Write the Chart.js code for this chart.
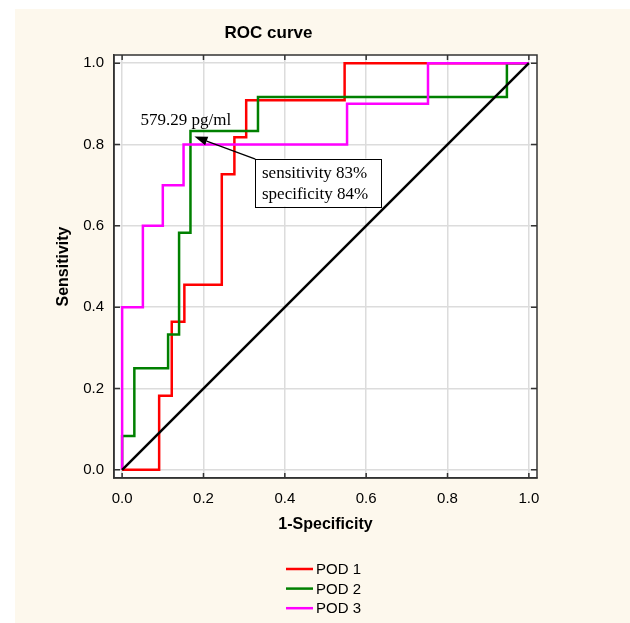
<!DOCTYPE html>
<html><head><meta charset="utf-8">
<script src="https://cdn.jsdelivr.net/npm/chart.js@4.4.1/dist/chart.umd.min.js"></script>
<style>html,body{margin:0;padding:0;background:#fff;} canvas{display:block;}</style>
</head><body>
<canvas id="c" width="630" height="623"></canvas>
<script>
const TITLE = 'ROC curve';
const X_TITLE = '1-Specificity';
const Y_TITLE = 'Sensitivity';
const TICKS = [0, 0.2, 0.4, 0.6, 0.8, 1.0];
const SERIES_NAMES = ['POD 1', 'POD 2', 'POD 3'];
const SERIES_COLORS = ['#ff0000', '#008000', '#ff00ff'];
const POD1_FPR = [0, 0.091, 0.122, 0.153, 0.245, 0.276, 0.305, 0.547, 1.0];
const POD1_TPR = [0, 0.182, 0.364, 0.455, 0.727, 0.818, 0.909, 1.0, 1.0];
const POD2_FPR = [0, 0, 0.030, 0.113, 0.140, 0.168, 0.334, 0.946, 1.0];
const POD2_TPR = [0, 0.083, 0.250, 0.333, 0.583, 0.833, 0.917, 1.0, 1.0];
const POD3_FPR = [0, 0, 0.051, 0.100, 0.151, 0.553, 0.752, 1.0];
const POD3_TPR = [0, 0.400, 0.600, 0.700, 0.800, 0.900, 1.0, 1.0];
const REF_FPR = [0, 1];
const REF_TPR = [0, 1];
const CUTOFF_LABEL = '579.29 pg/ml';
const CUTOFF_POINT = [0.168, 0.833];
const CUTOFF_TEXT = ['sensitivity 83%', 'specificity 84%'];

const SANS = '"Liberation Sans", Arial, Helvetica, sans-serif';
const SERIF = '"Liberation Serif", "Times New Roman", serif';

function pts(xs, ys) { return xs.map((v, i) => ({ x: v, y: ys[i] })); }

const extras = {
  id: 'extras',
  beforeDraw(chart) {
    const { ctx, chartArea: a } = chart;
    ctx.save();
    ctx.fillStyle = '#ffffff';
    ctx.fillRect(0, 0, chart.width, chart.height);
    ctx.fillStyle = '#fdf8ed';
    ctx.fillRect(15, 9, chart.width - 15, chart.height - 9);
    ctx.fillStyle = '#ffffff';
    ctx.fillRect(a.left, a.top, a.right - a.left, a.bottom - a.top);
    ctx.restore();
  },
  beforeDatasetsDraw(chart) {
    const { ctx, chartArea: a, scales: { x, y } } = chart;
    ctx.save();
    ctx.strokeStyle = '#333333';
    ctx.lineWidth = 1.5;
    ctx.strokeRect(a.left, a.top, a.right - a.left, a.bottom - a.top);
    ctx.beginPath();
    for (const v of TICKS) {
      const px = x.getPixelForValue(v), py = y.getPixelForValue(v);
      ctx.moveTo(px, a.bottom); ctx.lineTo(px, a.bottom - 5);
      ctx.moveTo(px, a.top); ctx.lineTo(px, a.top + 5);
      ctx.moveTo(a.left, py); ctx.lineTo(a.left + 6, py);
      ctx.moveTo(a.right, py); ctx.lineTo(a.right - 6, py);
    }
    ctx.stroke();
    ctx.restore();
  },
  afterDatasetsDraw(chart) {
    const { ctx, scales: { x, y } } = chart;
    const px = x.getPixelForValue(CUTOFF_POINT[0]);
    const py = y.getPixelForValue(CUTOFF_POINT[1]);
    ctx.save();
    ctx.font = '17px ' + SERIF;
    ctx.fillStyle = '#000';
    ctx.textAlign = 'left';
    ctx.textBaseline = 'alphabetic';
    ctx.fillText(CUTOFF_LABEL, px - 50, py - 6);
    // arrow
    const tx = px + 4, ty = py + 5.5, sx = px + 65, sy = py + 28;
    const ang = Math.atan2(ty - sy, tx - sx);
    const hl = 13, hw = 4.5;
    const bxp = tx - hl * Math.cos(ang), byp = ty - hl * Math.sin(ang);
    ctx.strokeStyle = '#000';
    ctx.lineWidth = 1.3;
    ctx.beginPath(); ctx.moveTo(sx, sy); ctx.lineTo(bxp, byp); ctx.stroke();
    ctx.beginPath();
    ctx.moveTo(tx, ty);
    ctx.lineTo(bxp + hw * Math.sin(ang), byp - hw * Math.cos(ang));
    ctx.lineTo(bxp - hw * Math.sin(ang), byp + hw * Math.cos(ang));
    ctx.closePath(); ctx.fill();
    // box
    const bx = px + 65, by = py + 27.5, bw = 126, bh = 48;
    ctx.fillStyle = '#fff';
    ctx.fillRect(bx, by, bw, bh);
    ctx.strokeStyle = '#000'; ctx.lineWidth = 1;
    ctx.strokeRect(Math.round(bx) + 0.5, Math.round(by) + 0.5, bw, bh);
    ctx.fillStyle = '#000';
    ctx.fillText(CUTOFF_TEXT[0], bx + 6.5, py + 46.5);
    ctx.fillText(CUTOFF_TEXT[1], bx + 6.5, py + 67.5);
    ctx.restore();
  },
  afterDraw(chart) {
    const { ctx } = chart;
    ctx.save();
    ctx.font = '15px ' + SANS;
    ctx.textAlign = 'left';
    ctx.textBaseline = 'middle';
    SERIES_NAMES.forEach((name, i) => {
      const yy = 569 + i * 19.6;
      ctx.strokeStyle = SERIES_COLORS[i];
      ctx.lineWidth = 2.5;
      ctx.beginPath(); ctx.moveTo(286, yy); ctx.lineTo(313, yy); ctx.stroke();
      ctx.fillStyle = '#000';
      ctx.fillText(name, 316, yy + 1);
    });
    ctx.restore();
  }
};

const lineDs = (label, data, color, order, stepped) => ({
  label, data, borderColor: color, backgroundColor: color,
  borderWidth: 2.5, pointRadius: 0, pointHoverRadius: 0, fill: false,
  tension: 0, stepped, order, showLine: true
});

new Chart(document.getElementById('c'), {
  type: 'scatter',
  data: {
    datasets: [
      lineDs('Reference', pts(REF_FPR, REF_TPR), '#000000', 0, false),
      lineDs(SERIES_NAMES[2], pts(POD3_FPR, POD3_TPR), SERIES_COLORS[2], 1, 'before'),
      lineDs(SERIES_NAMES[1], pts(POD2_FPR, POD2_TPR), SERIES_COLORS[1], 2, 'before'),
      lineDs(SERIES_NAMES[0], pts(POD1_FPR, POD1_TPR), SERIES_COLORS[0], 3, 'before')
    ]
  },
  options: {
    responsive: false,
    animation: false,
    devicePixelRatio: 1,
    layout: { padding: { left: 0, right: 93, top: 0, bottom: 85 } },
    plugins: {
      legend: { display: false },
      tooltip: { enabled: false },
      title: {
        display: true, text: TITLE, color: '#000',
        font: { family: SANS, size: 17, weight: 'bold' },
        padding: { top: 22.8, bottom: 11.8 }
      }
    },
    scales: {
      x: {
        type: 'linear', position: 'bottom', min: -0.02, max: 1.02,
        afterBuildTicks: s => { s.ticks = TICKS.map(v => ({ value: v })); },
        afterFit: s => { s.height = 60; },
        ticks: { color: '#000', font: { family: SANS, size: 15 }, padding: 12,
                 callback: v => Number(v).toFixed(1), maxRotation: 0 },
        grid: { color: '#dcdcdc', lineWidth: 1.5, drawTicks: false },
        border: { display: true, color: '#333', width: 1.5 },
        title: { display: true, text: X_TITLE, color: '#000',
                 font: { family: SANS, size: 16, weight: 'bold' }, padding: { top: 0, bottom: 3.4 } }
      },
      y: {
        type: 'linear', position: 'left', min: -0.02, max: 1.02,
        afterBuildTicks: s => { s.ticks = TICKS.map(v => ({ value: v })); },
        afterFit: s => { s.width = 114; },
        ticks: { color: '#000', font: { family: SANS, size: 15 }, padding: 10,
                 callback: v => Number(v).toFixed(1) },
        grid: { color: '#dcdcdc', lineWidth: 1.5, drawTicks: false },
        border: { display: true, color: '#333', width: 1.5 },
        title: { display: true, text: Y_TITLE, color: '#000',
                 font: { family: SANS, size: 16, weight: 'bold' }, padding: { top: 54, bottom: 0 } }
      }
    }
  },
  plugins: [extras]
});
</script>
</body></html>
